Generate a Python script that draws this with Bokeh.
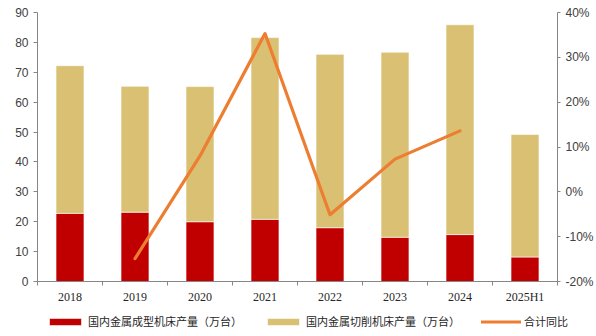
import math
from bokeh.plotting import figure
from bokeh.layouts import column
from bokeh.models import (Range1d, LinearAxis, FixedTicker, NumeralTickFormatter,
                          Legend, LegendItem, ColumnDataSource)
from bokeh.embed import file_html
from bokeh.resources import INLINE

categories = ["2018", "2019", "2020", "2021", "2022", "2023", "2024", "2025H1"]
forming = [22.8, 23.2, 20.0, 20.8, 18.0, 14.8, 15.7, 8.2]      # 国内金属成型机床产量（万台）
cutting = [49.4, 42.1, 45.2, 60.8, 58.0, 61.9, 70.2, 41.0]     # 国内金属切削机床产量（万台）
yoy = [math.nan, -0.149, 0.08, 0.353, -0.051, 0.073, 0.136, math.nan]  # 合计同比
left_ticks = [0, 10, 20, 30, 40, 50, 60, 70, 80, 90]
right_ticks = [-0.2, -0.1, 0.0, 0.1, 0.2, 0.3, 0.4]
labels = ["国内金属成型机床产量（万台）", "国内金属切削机床产量（万台）", "合计同比"]

RED = "#C00000"
TAN = "#D9C073"
ORANGE = "#ED7D31"
AXIS = "#868686"

n = len(categories)
xs = [i + 0.5 for i in range(n)]
source = ColumnDataSource(dict(x=xs, forming=forming, cutting=cutting, yoy=yoy))

p = figure(width=596, height=306, x_range=Range1d(0, n), y_range=Range1d(0, 90),
           output_backend="svg", toolbar_location=None,
           min_border_left=37, min_border_right=35, min_border_top=12, min_border_bottom=24)
p.frame_align = False
p.extra_y_ranges = {"pct": Range1d(-0.2, 0.4)}
p.grid.visible = False
p.outline_line_color = None

bars = p.vbar_stack(["forming", "cutting"], x="x", width=0.43, color=[RED, TAN],
                    line_color="white", line_width=0.6, source=source)
ln = p.line("x", "yoy", y_range_name="pct", line_color=ORANGE, line_width=3.2,
            line_join="round", line_cap="round", source=source)

# x axis: labels at centers, ticks at category boundaries
xa = p.xaxis[0]
xa.ticker = FixedTicker(ticks=xs, minor_ticks=list(range(n + 1)))
overrides = {}
for xv, c in zip(xs, categories):
    overrides[xv] = c
    overrides[str(xv)] = c
xa.major_label_overrides = overrides
xa.major_tick_line_color = None
xa.minor_tick_line_color = AXIS
xa.minor_tick_in = 0
xa.minor_tick_out = 4
xa.axis_line_color = AXIS
xa.major_label_text_font = "Liberation Serif"
xa.major_label_text_font_size = "12px"
xa.major_label_text_color = "#262626"
xa.major_label_standoff = 2

ya = p.yaxis[0]
ya.ticker = FixedTicker(ticks=left_ticks)
ya.axis_line_color = AXIS
ya.major_tick_line_color = AXIS
ya.major_tick_in = 0
ya.major_tick_out = 4
ya.minor_tick_line_color = None
ya.major_label_text_font = "Liberation Sans"
ya.major_label_text_font_size = "12px"
ya.major_label_text_color = "#404040"
ya.major_label_standoff = 5

ra = LinearAxis(y_range_name="pct", ticker=FixedTicker(ticks=right_ticks),
                formatter=NumeralTickFormatter(format="0%"))
ra.axis_line_color = AXIS
ra.major_tick_line_color = AXIS
ra.major_tick_in = 0
ra.major_tick_out = 3
ra.minor_tick_line_color = None
ra.major_label_text_font = "Liberation Sans"
ra.major_label_text_font_size = "12px"
ra.major_label_text_color = "#404040"
ra.major_label_standoff = 5
p.add_layout(ra, "right")

# legend strip below the chart (hidden copies of the series supply the legend glyphs)
pl = figure(width=596, height=30, x_range=Range1d(0, n), y_range=Range1d(0, 90),
            output_backend="svg", toolbar_location=None,
            x_axis_location=None, y_axis_location=None,
            min_border_left=0, min_border_right=0, min_border_top=0, min_border_bottom=0)
pl.frame_align = False
pl.grid.visible = False
pl.outline_line_color = None
lr1 = pl.vbar(x="x", top="forming", width=0.43, color=RED, line_color="white",
              line_width=0.6, source=source, visible=False)
lr2 = pl.vbar(x="x", top="cutting", width=0.43, color=TAN, line_color="white",
              line_width=0.6, source=source, visible=False)
lr3 = pl.line(x="x", y="yoy", line_color=ORANGE, line_width=3.2, line_cap="round",
              source=source, visible=False)

legend = Legend(items=[LegendItem(label=labels[0], renderers=[lr1]),
                       LegendItem(label=labels[1], renderers=[lr2]),
                       LegendItem(label=labels[2], renderers=[lr3])],
                location=(45, 7), orientation="horizontal",
                glyph_width=40, glyph_height=9, label_standoff=3, spacing=21,
                padding=0, margin=0, border_line_alpha=0, background_fill_alpha=0,
                label_text_font="Noto Sans CJK SC", label_text_font_size="11px",
                label_text_color="#262626")
pl.add_layout(legend, "center")

layout = column(p, pl, spacing=0)
open("out.html", "w").write(file_html(layout, INLINE))
